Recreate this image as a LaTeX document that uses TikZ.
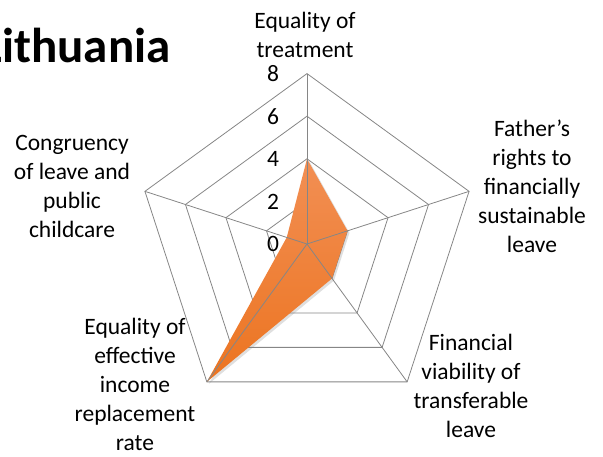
\documentclass[tikz,border=0pt]{standalone}
\usepackage{fontspec}
\setmainfont{Carlito}
\usetikzlibrary{shadows}
\definecolor{gridgray}{RGB}{134,134,134}
\definecolor{orangeTop}{RGB}{242,143,84}
\definecolor{orangeBot}{RGB}{236,116,32}
\begin{document}
\begin{tikzpicture}[x=1pt,y=-1pt,
  grid/.style={draw=gridgray, line width=0.8pt, line join=miter},
  lbl/.style={align=center, font=\fontsize{23.5}{29}\selectfont, inner sep=0pt, anchor=north},
  num/.style={font=\fontsize{23.5}{29}\selectfont, inner sep=0pt},
  ttl/.style={font=\fontsize{49}{52}\selectfont\bfseries, inner sep=0pt, anchor=base west}
]
\useasboundingbox (0,0) rectangle (603,456);
\clip (0,0) rectangle (603,456);
\def\cx{307}\def\cy{244}\def\u{21.3}
\coordinate (c) at (\cx,\cy);
% rings
\foreach \r in {2,4,6,8}{
  \foreach \a [count=\i] in {90,18,-54,-126,162}{
    \coordinate (r\r-\i) at ({\cx+\r*\u*cos(\a)},{\cy-\r*\u*sin(\a)});
  }
  \draw[grid] (r\r-1)--(r\r-2)--(r\r-3)--(r\r-4)--(r\r-5)--cycle;
}
% data
\foreach \v/\a [count=\i] in {4/90,2/18,2/-54,8/-126,1/162}{
  \coordinate (d\i) at ({\cx+\v*\u*cos(\a)},{\cy-\v*\u*sin(\a)});
}
\path[top color=orangeTop, bottom color=orangeBot,
  drop shadow={opacity=0.25, shadow xshift=2pt, shadow yshift=-2pt}]
  (d1)--(d2)--(d3)--(d4)--(d5)--cycle;
% axes
\foreach \i in {1,...,5}{\draw[grid] (c) -- (r8-\i);}
% scale numbers
\node[num] (n8) at (273,{\cy-8*\u}) {8};
\node[num] (n6) at (273,{\cy-6*\u}) {6};
\node[num] (n4) at (273,{\cy-4*\u}) {4};
\node[num] (n2) at (273,{\cy-2*\u}) {2};
\node[num] (n0) at (273,\cy) {0};
% labels
\node[lbl] (lt) at (305,12) {Equality of\\treatment};
\node[lbl] (lf) at (532,120) {Father’s\\rights to\\financially\\sustainable\\leave};
\node[lbl] (lv) at (471,334) {Financial\\viability of\\transferable\\leave};
\node[lbl] (le) at (135,318) {Equality of\\effective\\income\\replacement\\rate};
\node[lbl] (lc) at (72,135) {Congruency\\of leave and\\public\\childcare};
% title
\node[ttl] (title) at (2,62) {\llap{L}ithuania};
\end{tikzpicture}
\end{document}
